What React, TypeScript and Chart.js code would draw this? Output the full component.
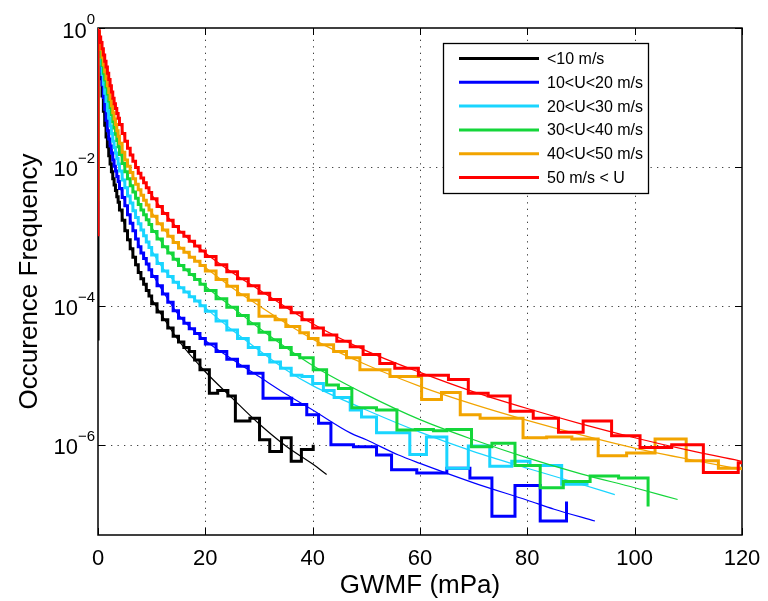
import React, { useEffect, useRef } from 'react';
import { Chart, registerables } from 'chart.js';

Chart.register(...registerables);

// ---------- data (x in mPa, y given as log10 of occurrence frequency) ----------
const seriesLabels = ['<10 m/s', '10<U<20 m/s', '20<U<30 m/s', '30<U<40 m/s', '40<U<50 m/s', '50 m/s < U'];
const seriesColors = ['#000000', '#0000ff', '#1ad5ff', '#14d63a', '#f2a400', '#ff0000'];

const xTicks = [0, 20, 40, 60, 80, 100, 120];
const yTickExponents = [0, -2, -4, -6];
const xTitle = 'GWMF (mPa)';
const yTitle = 'Occurence Frequency';

// histograms: [bin start, log10 value]
const blackHist = [[0,-4.5],[0,-0.15],[0.25,-0.44],[0.5,-0.73],[0.75,-0.98],[1,-1.2],[1.25,-1.4],[1.5,-1.57],[1.75,-1.71],[2,-1.84],[2.25,-1.96],[2.5,-2.07],[2.75,-2.17],[3,-2.26],[3.25,-2.34],[3.5,-2.43],[3.75,-2.51],[4,-2.62],[4.5,-2.77],[5,-2.92],[5.5,-3.05],[6,-3.18],[6.5,-3.3],[7,-3.41],[7.5,-3.52],[8,-3.61],[8.5,-3.69],[9,-3.78],[9.5,-3.86],[10,-3.97],[11,-4.09],[12,-4.2],[13,-4.32],[14,-4.44],[15,-4.52],[16,-4.6],[17,-4.66],[18,-4.78],[19,-4.92],[20.75,-5.26],[22.3,-5.22],[24.2,-5.3],[25.6,-5.66],[28.3,-5.62],[30.1,-5.93],[32,-6.1],[34.2,-5.9],[36,-6.24],[37.9,-6.07],[40.1,-6.0]];
const blueHist = [[0,-2.5],[0,-0.13],[0.25,-0.38],[0.5,-0.62],[0.75,-0.82],[1,-1.0],[1.25,-1.17],[1.5,-1.33],[1.75,-1.48],[2,-1.6],[2.25,-1.7],[2.5,-1.8],[2.75,-1.9],[3,-1.99],[3.25,-2.06],[3.5,-2.14],[3.75,-2.21],[4,-2.31],[4.5,-2.44],[5,-2.56],[5.5,-2.69],[6,-2.81],[6.5,-2.92],[7,-3.04],[7.5,-3.15],[8,-3.24],[8.5,-3.32],[9,-3.4],[9.5,-3.48],[10,-3.58],[11,-3.71],[12,-3.83],[13,-3.95],[14,-4.07],[15,-4.18],[16,-4.25],[17,-4.33],[18,-4.4],[19,-4.47],[20,-4.55],[22,-4.66],[24,-4.77],[26,-4.87],[28,-4.97],[30.75,-5.33],[36.1,-5.42],[38.9,-5.57],[41.1,-5.69],[43.4,-6.0],[47.6,-6.03],[51.9,-6.15],[54.7,-6.36],[59.4,-6.41],[65,-6.34],[69.3,-6.48],[73.4,-7.03],[77.7,-6.59],[82.4,-7.1],[87.3,-6.82]];
const cyanHist = [[0,-2.5],[0,-0.1],[0.25,-0.31],[0.5,-0.52],[0.75,-0.67],[1,-0.81],[1.25,-0.94],[1.5,-1.06],[1.75,-1.19],[2,-1.3],[2.25,-1.41],[2.5,-1.52],[2.75,-1.63],[3,-1.72],[3.25,-1.8],[3.5,-1.88],[3.75,-1.96],[4,-2.06],[4.5,-2.19],[5,-2.3],[5.5,-2.42],[6,-2.52],[6.5,-2.63],[7,-2.73],[7.5,-2.82],[8,-2.91],[8.5,-2.99],[9,-3.08],[9.5,-3.16],[10,-3.27],[11,-3.39],[12,-3.5],[13,-3.58],[14,-3.66],[15,-3.74],[16,-3.8],[17,-3.87],[18,-3.93],[19,-4.0],[20,-4.08],[22,-4.22],[24,-4.35],[26,-4.47],[28,-4.6],[30,-4.7],[32,-4.81],[34,-4.9],[36,-5.0],[38,-5.02],[40,-5.12],[42,-5.22],[44,-5.32],[47,-5.5],[49.1,-5.6],[51.9,-5.83],[58.1,-6.14],[61.2,-5.89],[65,-6.34],[69,-6.02],[73,-6.31],[77.1,-6.24],[80.5,-6.3],[86.4,-6.57],[91.4,-6.57]];
const greenHist = [[0,-2.5],[0,-0.08],[0.25,-0.25],[0.5,-0.41],[0.75,-0.54],[1,-0.65],[1.25,-0.75],[1.5,-0.85],[1.75,-0.95],[2,-1.05],[2.25,-1.15],[2.5,-1.25],[2.75,-1.35],[3,-1.44],[3.25,-1.53],[3.5,-1.62],[3.75,-1.71],[4,-1.82],[4.5,-1.95],[5,-2.07],[5.5,-2.17],[6,-2.27],[6.5,-2.36],[7,-2.45],[7.5,-2.54],[8,-2.62],[8.5,-2.69],[9,-2.76],[9.5,-2.83],[10,-2.93],[11,-3.04],[12,-3.15],[13,-3.24],[14,-3.33],[15,-3.42],[16,-3.48],[17,-3.55],[18,-3.62],[19,-3.69],[20,-3.78],[22,-3.9],[24,-4.02],[26,-4.14],[28,-4.26],[30,-4.38],[32,-4.49],[34,-4.6],[36,-4.7],[37.6,-4.75],[40.1,-4.92],[42.6,-5.14],[44.8,-5.19],[47.3,-5.47],[51.9,-5.5],[55.7,-5.79],[59.1,-5.78],[62.5,-5.8],[65,-5.78],[69.6,-6.03],[73.4,-5.98],[77.7,-6.3],[82.4,-6.62],[86.7,-6.53],[91.7,-6.45],[97,-6.48],[102.5,-6.89]];
const orangeHist = [[0,-2.5],[0,-0.06],[0.25,-0.19],[0.5,-0.31],[0.75,-0.42],[1,-0.53],[1.25,-0.63],[1.5,-0.73],[1.75,-0.83],[2,-0.93],[2.25,-1.03],[2.5,-1.12],[2.75,-1.22],[3,-1.31],[3.25,-1.39],[3.5,-1.48],[3.75,-1.56],[4,-1.66],[4.5,-1.79],[5,-1.9],[5.5,-1.99],[6,-2.08],[6.5,-2.17],[7,-2.25],[7.5,-2.33],[8,-2.41],[8.5,-2.48],[9,-2.55],[9.5,-2.62],[10,-2.71],[11,-2.82],[12,-2.91],[13,-3.0],[14,-3.09],[15,-3.17],[16,-3.23],[17,-3.3],[18,-3.36],[19,-3.42],[20,-3.5],[22,-3.62],[24,-3.72],[26,-3.84],[28,-3.92],[30,-4.15],[33,-4.2],[35,-4.3],[37.6,-4.39],[39.2,-4.47],[41,-4.56],[43.9,-4.66],[46.3,-4.75],[48.8,-4.92],[54.4,-5.02],[60.3,-5.35],[64,-5.25],[67.5,-5.57],[71.2,-5.62],[79.2,-5.9],[83.6,-5.89],[88.3,-5.92],[93.2,-6.16],[98.5,-6.12],[103.8,-5.92],[109.6,-6.23],[115.6,-6.34],[120,-6.34]];
const redHist = [[0,-3.0],[0,-0.04],[0.25,-0.13],[0.5,-0.21],[0.75,-0.3],[1,-0.39],[1.25,-0.48],[1.5,-0.56],[1.75,-0.65],[2,-0.74],[2.25,-0.83],[2.5,-0.92],[2.75,-1.01],[3,-1.09],[3.25,-1.16],[3.5,-1.23],[3.75,-1.3],[4,-1.39],[4.5,-1.52],[5,-1.63],[5.5,-1.73],[6,-1.83],[6.5,-1.92],[7,-2.01],[7.5,-2.09],[8,-2.16],[8.5,-2.23],[9,-2.3],[9.5,-2.37],[10,-2.46],[11,-2.57],[12,-2.67],[13,-2.77],[14,-2.86],[15,-2.94],[16,-3.0],[17,-3.07],[18,-3.14],[19,-3.21],[20,-3.29],[22,-3.41],[24,-3.51],[26,-3.61],[28,-3.71],[30,-3.82],[32,-3.91],[34,-4.02],[36,-4.1],[38,-4.2],[40,-4.32],[42,-4.42],[44.5,-4.51],[47,-4.59],[49.4,-4.7],[52.5,-4.83],[55.3,-4.9],[59.7,-5.0],[65.3,-5.06],[69,-5.26],[72.7,-5.3],[76.8,-5.52],[81.1,-5.62],[85.8,-5.82],[90.4,-5.66],[95.7,-5.87],[101,-6.04],[106.9,-6.0],[112.8,-6.4],[119.3,-6.26],[120,-6.26]];

// fitted curves: [x, log10 value]
const blackFit = [[0,0],[0.3,-0.35],[0.6,-0.7],[1,-1.1],[1.5,-1.5],[2,-1.78],[2.5,-2.02],[3,-2.22],[4,-2.55],[5,-2.85],[6,-3.12],[7,-3.36],[8,-3.57],[10,-3.9],[12,-4.15],[15,-4.5],[20,-4.95],[25,-5.33],[30,-5.7],[35,-6.02],[40,-6.28],[42.6,-6.43]];
const blueFit = [[0,0],[0.3,-0.3],[0.6,-0.6],[1,-0.92],[1.5,-1.25],[2,-1.55],[3,-1.95],[4,-2.25],[5,-2.5],[6,-2.75],[7,-2.98],[8,-3.2],[10,-3.52],[12,-3.78],[15,-4.13],[20,-4.5],[25,-4.77],[30,-5.02],[35,-5.27],[40,-5.5],[47,-5.83],[50,-5.93],[56,-6.15],[60,-6.27],[70,-6.55],[80,-6.8],[85,-6.93],[92.6,-7.1]];
const cyanFit = [[0,0],[0.3,-0.25],[0.6,-0.5],[1,-0.75],[1.5,-1.0],[2,-1.25],[3,-1.68],[4,-2.0],[5,-2.25],[6,-2.47],[7,-2.68],[8,-2.87],[10,-3.2],[12,-3.45],[15,-3.7],[20,-4.03],[25,-4.35],[30,-4.64],[35,-4.92],[40,-5.15],[50,-5.5],[60,-5.82],[70,-6.1],[80,-6.34],[90,-6.57],[96.3,-6.72]];
const greenFit = [[0,0],[0.3,-0.2],[0.6,-0.4],[1,-0.6],[1.5,-0.8],[2,-1.0],[3,-1.4],[4,-1.75],[5,-2.02],[6,-2.22],[7,-2.4],[8,-2.58],[10,-2.87],[12,-3.1],[15,-3.38],[20,-3.72],[25,-4.02],[30,-4.32],[35,-4.6],[40,-4.86],[50,-5.28],[60,-5.64],[70,-5.93],[80,-6.19],[90,-6.42],[100,-6.62],[108,-6.79]];
const orangeFit = [[0,0],[0.3,-0.15],[0.6,-0.3],[1,-0.48],[1.5,-0.68],[2,-0.88],[3,-1.27],[4,-1.6],[5,-1.85],[6,-2.03],[7,-2.21],[8,-2.37],[10,-2.65],[12,-2.87],[15,-3.13],[20,-3.45],[25,-3.74],[30,-4.0],[35,-4.25],[40,-4.48],[50,-4.85],[60,-5.16],[70,-5.42],[80,-5.65],[90,-5.86],[100,-6.05],[110,-6.21],[120,-6.36]];
const redFit = [[0,0],[0.3,-0.1],[0.6,-0.2],[1,-0.35],[1.5,-0.52],[2,-0.7],[3,-1.05],[4,-1.33],[5,-1.58],[6,-1.78],[7,-1.97],[8,-2.13],[10,-2.4],[12,-2.62],[15,-2.9],[20,-3.24],[25,-3.52],[30,-3.77],[35,-4.02],[40,-4.26],[50,-4.65],[60,-4.96],[70,-5.24],[80,-5.48],[90,-5.7],[100,-5.9],[110,-6.08],[120,-6.24]];

const histograms = [blackHist, blueHist, cyanHist, greenHist, orangeHist, redHist];
const fits = [blackFit, blueFit, cyanFit, greenFit, orangeFit, redFit];

const FONT = '"Liberation Sans", Arial, Helvetica, sans-serif';

const toPoints = (arr: number[][]) => arr.map(([x, e]) => ({ x, y: Math.pow(10, e) }));

const framePlugin = {
  id: 'matlabFrame',
  beforeDatasetsDraw(chart: any) {
    const { ctx, chartArea: a, scales } = chart;
    const xs = scales.x, ys = scales.y;
    ctx.save();
    // dotted grid
    ctx.strokeStyle = 'rgba(0,0,0,0.75)';
    ctx.lineWidth = 1;
    ctx.setLineDash([1.3, 5.2]);
    xTicks.forEach((v) => {
      const px = Math.round(xs.getPixelForValue(v)) + 0.5;
      if (px <= a.left + 2 || px >= a.right - 2) return;
      ctx.beginPath(); ctx.moveTo(px, a.bottom); ctx.lineTo(px, a.top); ctx.stroke();
    });
    yTickExponents.forEach((e) => {
      const py = Math.round(ys.getPixelForValue(Math.pow(10, e))) + 0.5;
      if (py <= a.top + 2 || py >= a.bottom - 2) return;
      ctx.beginPath(); ctx.moveTo(a.left, py); ctx.lineTo(a.right, py); ctx.stroke();
    });
    // box and inner ticks (drawn beneath data, as in the original)
    ctx.setLineDash([]);
    ctx.strokeStyle = '#000';
    ctx.lineWidth = 1.5;
    ctx.strokeRect(a.left, a.top, a.right - a.left, a.bottom - a.top);
    const tl = 7;
    ctx.lineWidth = 1;
    xTicks.forEach((v) => {
      const px = Math.round(xs.getPixelForValue(v)) + 0.5;
      ctx.beginPath();
      ctx.moveTo(px, a.bottom); ctx.lineTo(px, a.bottom - tl);
      ctx.moveTo(px, a.top); ctx.lineTo(px, a.top + tl);
      ctx.stroke();
    });
    yTickExponents.forEach((e) => {
      const py = Math.round(ys.getPixelForValue(Math.pow(10, e))) + 0.5;
      ctx.beginPath();
      ctx.moveTo(a.left, py); ctx.lineTo(a.left + tl, py);
      ctx.moveTo(a.right, py); ctx.lineTo(a.right - tl, py);
      ctx.stroke();
    });
    ctx.restore();
  },
  afterDatasetsDraw(chart: any) {
    const { ctx, chartArea: a, scales } = chart;
    const xs = scales.x, ys = scales.y;
    ctx.save();
    ctx.setLineDash([]);

    // tick labels
    ctx.fillStyle = '#000';
    ctx.textBaseline = 'alphabetic';
    ctx.font = `22px ${FONT}`;
    ctx.textAlign = 'center';
    xTicks.forEach((v) => {
      const px = xs.getPixelForValue(v);
      ctx.fillText(String(v), px, 565);
    });
    yTickExponents.forEach((e) => {
      const py = ys.getPixelForValue(Math.pow(10, e));
      const expText = e === 0 ? '0' : '\u2212' + String(-e);
      ctx.font = `15px ${FONT}`;
      const ew = ctx.measureText(expText).width;
      ctx.textAlign = 'right';
      ctx.fillText(expText, a.left - 3, py - 4);
      ctx.font = `22px ${FONT}`;
      ctx.fillText('10', a.left - 3 - ew, py + 9.5);
    });

    // axis titles
    ctx.font = `26px ${FONT}`;
    ctx.textAlign = 'center';
    ctx.fillText(xTitle, (a.left + a.right) / 2, 593);
    ctx.save();
    ctx.translate(37, (a.top + a.bottom) / 2);
    ctx.rotate(-Math.PI / 2);
    ctx.fillText(yTitle, 0, 0);
    ctx.restore();

    // legend
    const lx = 443, ly = 43, lw = 205, lh = 150;
    ctx.fillStyle = '#fff';
    ctx.fillRect(lx, ly, lw, lh);
    ctx.strokeStyle = '#000';
    ctx.lineWidth = 1.3;
    ctx.strokeRect(lx + 0.5, ly + 0.5, lw, lh);
    ctx.font = `16px ${FONT}`;
    ctx.textAlign = 'left';
    ctx.textBaseline = 'middle';
    seriesLabels.forEach((lab, i) => {
      const yy = 58.5 + i * 23.8;
      ctx.strokeStyle = seriesColors[i];
      ctx.lineWidth = 3;
      ctx.beginPath(); ctx.moveTo(459, yy); ctx.lineTo(539, yy); ctx.stroke();
      ctx.fillStyle = '#000';
      ctx.fillText(lab, 547, yy + 1);
    });
    ctx.restore();
  },
};

export default function App() {
  const ref = useRef<HTMLCanvasElement>(null);
  useEffect(() => {
    const datasets: any[] = [];
    seriesLabels.forEach((lab, i) => {
      datasets.push({
        label: lab,
        data: toPoints(histograms[i]),
        borderColor: seriesColors[i],
        borderWidth: 3,
        stepped: 'before',
        pointRadius: 0,
        fill: false,
        borderJoinStyle: 'miter',
        order: (5 - i) * 2 + 1,
      });
      datasets.push({
        label: lab + ' fit',
        data: toPoints(fits[i]),
        borderColor: seriesColors[i],
        borderWidth: 1.2,
        cubicInterpolationMode: 'monotone',
        pointRadius: 0,
        fill: false,
        order: (5 - i) * 2,
      });
    });
    const chart = new Chart(ref.current as HTMLCanvasElement, {
      type: 'line',
      data: { datasets },
      options: {
        animation: false,
        responsive: false,
        devicePixelRatio: 1,
        parsing: false,
        layout: { padding: { top: 28, right: 26, left: 0, bottom: 0 } },
        plugins: { legend: { display: false }, tooltip: { enabled: false }, title: { display: false } },
        scales: {
          x: {
            type: 'linear', min: 0, max: 120,
            ticks: { display: false },
            grid: { display: false },
            border: { display: false },
            afterFit: (s: any) => { s.height = 66; },
          },
          y: {
            type: 'logarithmic', min: 5e-8, max: 1,
            ticks: { display: false },
            grid: { display: false },
            border: { display: false },
            afterFit: (s: any) => { s.width = 98; },
          },
        },
      } as any,
      plugins: [framePlugin],
    });
    return () => chart.destroy();
  }, []);
  return (
    <div style={{ position: 'absolute', left: 0, top: 0, width: 768, height: 601, background: '#fff' }}>
      <canvas ref={ref} width={768} height={601} style={{ display: 'block' }} />
    </div>
  );
}
